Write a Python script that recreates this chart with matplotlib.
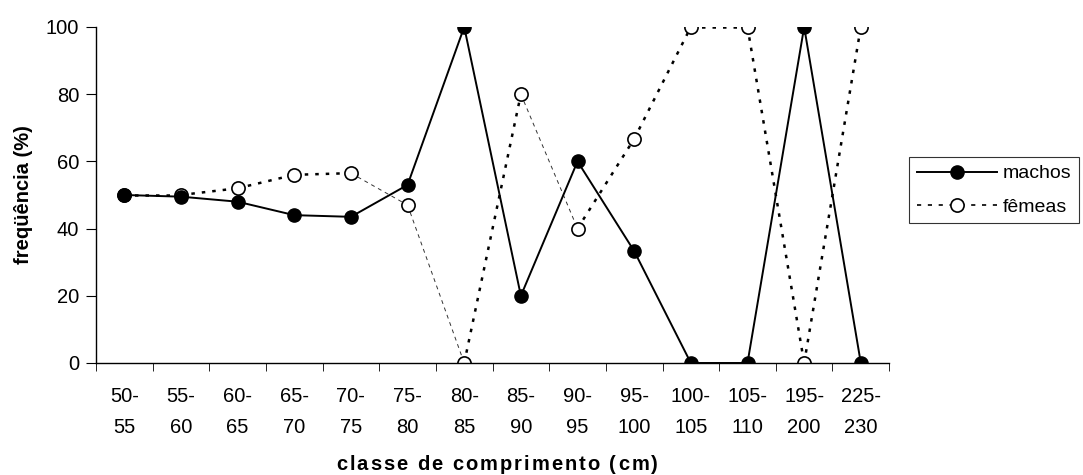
import matplotlib
matplotlib.use("Agg")
import matplotlib.pyplot as plt
from matplotlib.ticker import FixedLocator, NullFormatter
from matplotlib.font_manager import FontProperties
from matplotlib.textpath import TextToPath
from matplotlib.lines import Line2D

categories = ["50-\n55", "55-\n60", "60-\n65", "65-\n70", "70-\n75", "75-\n80", "80-\n85",
              "85-\n90", "90-\n95", "95-\n100", "100-\n105", "105-\n110", "195-\n200", "225-\n230"]
machos = [50, 49.5, 48, 44, 43.5, 53, 100, 20, 60, 33.3, 0, 0, 100, 0]
femeas = [50, 50, 52, 56, 56.5, 47, 0, 80, 40, 66.7, 100, 100, 0, 100]
thin_segments = {4, 5, 7}  # segments drawn with thin dashes in the original

plt.rcParams['font.family'] = ['Liberation Sans', 'DejaVu Sans']
DPI = 100
fig = plt.figure(figsize=(10.83, 4.75), dpi=DPI)
ax = fig.add_axes([0.0886, 0.2358, 0.7324, 0.7074])

x = list(range(len(categories)))

# femeas line, segment by segment
for i in range(len(x) - 1):
    if i in thin_segments:
        ax.plot(x[i:i + 2], femeas[i:i + 2], color='#333333', linewidth=0.7,
                linestyle=(0, (4, 4)), zorder=1)
    else:
        ax.plot(x[i:i + 2], femeas[i:i + 2], color='black', linewidth=1.8,
                linestyle=(0, (1.4, 2.8)), zorder=1)
ax.plot(x, femeas, linestyle='none', marker='o', markersize=9.5,
        markerfacecolor='white', markeredgecolor='black', markeredgewidth=1.2, zorder=2)
ax.plot(x, machos, linestyle='-', color='black', linewidth=1.4,
        marker='o', markersize=9.5, markerfacecolor='black', markeredgecolor='black',
        zorder=3)

ax.set_xlim(-0.5, len(categories) - 0.5)
ax.set_ylim(0, 100)
ax.set_yticks([0, 20, 40, 60, 80, 100])
ax.set_xticks(x)
ax.set_xticklabels(categories, fontsize=14.5, linespacing=1.8)
ax.xaxis.set_minor_locator(FixedLocator([i - 0.5 for i in range(len(categories) + 1)]))
ax.xaxis.set_minor_formatter(NullFormatter())
ax.tick_params(axis='x', which='major', length=0, pad=17)
ax.tick_params(axis='x', which='minor', length=6, direction='out')
ax.tick_params(axis='y', length=7, direction='out', labelsize=14.5, pad=5)

for s in ['top', 'right']:
    ax.spines[s].set_visible(False)
for s in ['left', 'bottom']:
    ax.spines[s].set_linewidth(1.0)

ax.set_ylabel('freqüência (%)', fontsize=14.5, fontweight='bold', labelpad=9)

# x label with wide letter spacing
def spaced_text(fig, s, xc, yc, size, tracking_px):
    prop = FontProperties(family='Liberation Sans', weight='bold', size=size)
    t2p = TextToPath()
    scale = DPI / 72.0
    def w(sub):
        if not sub:
            return 0.0
        return t2p.get_text_width_height_descent(sub, prop, ismath=False)[0] * scale
    total = w(s) + tracking_px * (len(s) - 1)
    W, H = fig.get_size_inches() * DPI
    x0 = xc - total / 2
    for i, ch in enumerate(s):
        px = x0 + w(s[:i]) + tracking_px * i
        fig.text(px / W, 1 - yc / H, ch, fontproperties=prop, ha='left', va='center')

spaced_text(fig, 'classe de comprimento (cm)', 497, 465, 14.5, 2.0)

# legend
h_m = Line2D([], [], color='black', linewidth=1.4, marker='o', markersize=9.5,
             markerfacecolor='black', markeredgecolor='black')
h_f = Line2D([], [], color='black', linewidth=1.2, linestyle=(0, (2.5, 4)), marker='o',
             markersize=9.5, markerfacecolor='white', markeredgecolor='black',
             markeredgewidth=1.2)
leg = fig.legend([h_m, h_f], ['machos', 'fêmeas'], loc='upper left',
                 bbox_to_anchor=(909 / 1083, 1 - 157 / 475), frameon=True,
                 fancybox=False, edgecolor='black', fontsize=14, handlelength=4.1,
                 handletextpad=0.3, borderpad=0.4, labelspacing=0.8, borderaxespad=0)
leg.get_frame().set_linewidth(0.8)

fig.savefig('out.png', dpi=DPI)
